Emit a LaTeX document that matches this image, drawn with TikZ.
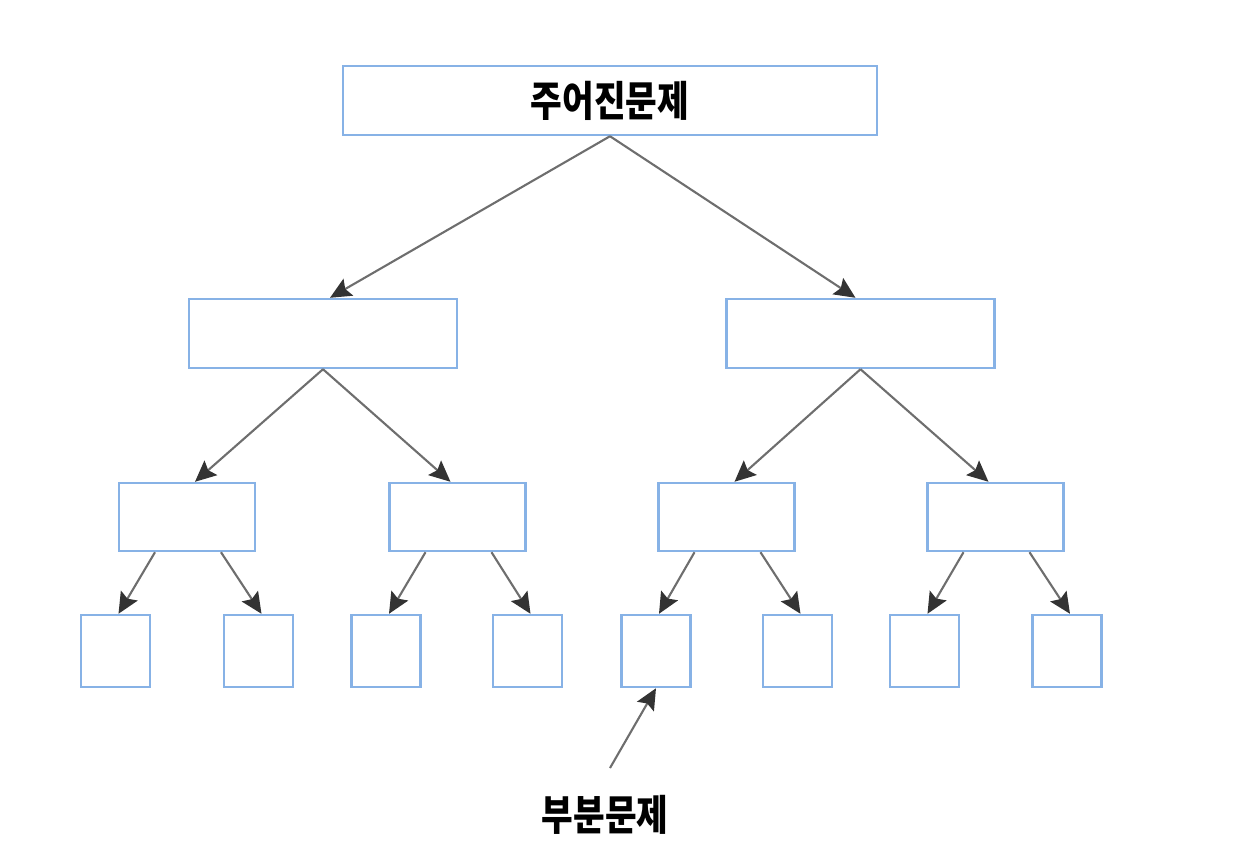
\documentclass[tikz,border=0pt]{standalone}
\usepackage{fontspec}
\setmainfont{Noto Sans CJK KR}
\usetikzlibrary{arrows.meta}
\definecolor{boxblue}{RGB}{135,178,230}
\definecolor{arrgray}{RGB}{110,110,110}

\begin{document}
\begin{tikzpicture}[x=0.02cm,y=-0.02cm,
  box/.style={draw=boxblue,line width=1.4pt,fill=white,inner sep=0pt},
  arr/.style={draw=arrgray,line width=1.2pt,-{Stealth[length=12pt,width=11pt,inset=2pt,color=black!80]}},
  lbl/.style={font=\fontsize{19}{22}\selectfont\bfseries}]
\useasboundingbox (0,0) rectangle (1238,860);
\node[box,minimum width=10.68cm,minimum height=1.38cm,lbl] (root) at (610,100.5) {\scalebox{1.03}[1.25]{주어진문제}};
\foreach \n/\x in {a/323,b/860.5}{\node[box,minimum width=5.36cm,minimum height=1.38cm] (l2\n) at (\x,333.5) {};}
\foreach \n/\x in {a/187,b/457.5,c/726.5,d/995.5}{\node[box,minimum width=2.72cm,minimum height=1.36cm] (l3\n) at (\x,517) {};}
\foreach \n/\x in {a/115.5,b/258.5,c/386,d/527.5,e/656,f/797.5,g/924.5,h/1067}{\node[box,minimum width=1.38cm,minimum height=1.44cm] (l4\n) at (\x,651) {};}
\draw[arr] (root.south) -- ([xshift=0.14cm]l2a.north);
\draw[arr] (root.south) -- ([xshift=-0.1cm]l2b.north);
\foreach \p/\c/\s in {l2a/l3a/0.16,l2a/l3b/-0.14,l2b/l3c/0.16,l2b/l3d/-0.14}{\draw[arr] (\p.south) -- ([xshift=\s cm]\c.north);}
\foreach \p/\c/\s in {l3a/l4a/-32,l3a/l4b/34,l3b/l4c/-32,l3b/l4d/34,l3c/l4e/-32,l3c/l4f/34,l3d/l4g/-32,l3d/l4h/34}{\draw[arr] ([xshift=\s*0.02cm]\p.south) -- ([xshift=0.06cm]\c.north);}
\coordinate (tail) at (610,768);
\node[lbl] (sub) at (605,815) {\scalebox{1.03}[1.25]{부분문제}};
\draw[arr] (tail) -- (l4e.south);
\end{tikzpicture}
\end{document}
